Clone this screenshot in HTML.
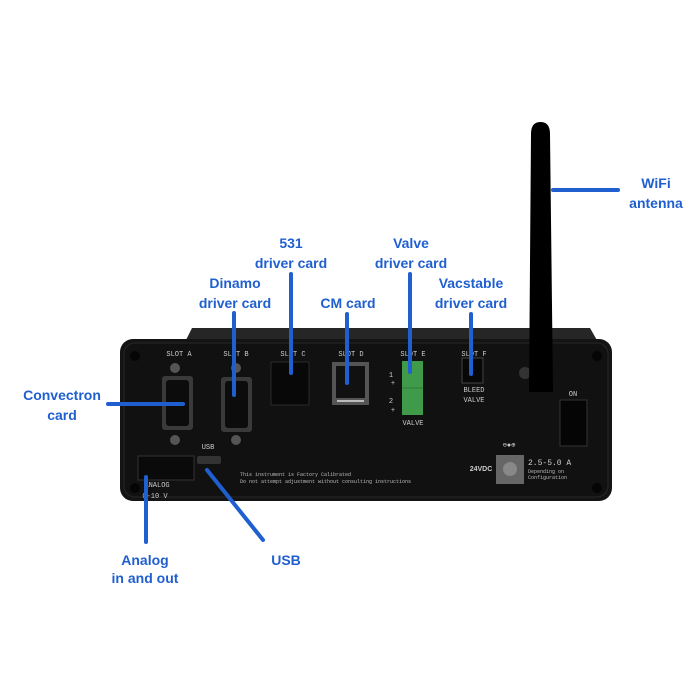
<!DOCTYPE html>
<html><head><meta charset="utf-8"><style>
html,body{margin:0;padding:0;background:#fff;}
svg{display:block;}
.l{font-family:"Liberation Sans",sans-serif;font-weight:bold;font-size:14px;fill:#1f5fcf;text-anchor:middle;}
.s{font-family:"Liberation Mono",monospace;font-size:7px;fill:#ccc;text-anchor:middle;}
.t{font-family:"Liberation Mono",monospace;font-size:5px;fill:#bbb;}
</style></head><body>
<svg width="700" height="700" viewBox="0 0 700 700">
<path d="M185 342 L192 328 L590 328 L598 342 Z" fill="#262626"/>
<rect x="120" y="339" width="492" height="162" rx="13" fill="#141414"/>
<rect x="124" y="343" width="484" height="154" rx="11" fill="#111" stroke="#262626"/>
<circle cx="135" cy="356" r="5" fill="#050505"/><circle cx="597" cy="356" r="5" fill="#050505"/>
<circle cx="135" cy="488" r="5" fill="#050505"/><circle cx="597" cy="488" r="5" fill="#050505"/>
<text class="s" x="179" y="356">SLOT A</text><text class="s" x="236" y="356">SLOT B</text>
<text class="s" x="293" y="356">SLOT C</text><text class="s" x="351" y="356">SLOT D</text>
<text class="s" x="413" y="356">SLOT E</text><text class="s" x="474" y="356">SLOT F</text>
<circle cx="175" cy="368" r="5" fill="#555"/><circle cx="175" cy="440" r="5" fill="#555"/>
<circle cx="236" cy="368" r="5" fill="#555"/><circle cx="236" cy="440" r="5" fill="#555"/>
<rect x="162" y="376" width="31" height="54" rx="3" fill="#3a3a3a"/>
<rect x="166" y="380" width="23" height="46" rx="3" fill="#0c0c0c"/>
<rect x="221" y="377" width="31" height="55" rx="3" fill="#3a3a3a"/>
<rect x="225" y="381" width="23" height="47" rx="3" fill="#0c0c0c"/>
<rect x="271" y="362" width="38" height="43" fill="#080808" stroke="#2a2a2a"/>
<rect x="332" y="362" width="37" height="43" fill="#555"/>
<rect x="336" y="366" width="29" height="32" fill="#111"/>
<rect x="337" y="400" width="27" height="2" fill="#bbb"/>
<rect x="402" y="361" width="21" height="54" fill="#3f9a4a"/>
<line x1="402" y1="388" x2="423" y2="388" stroke="#2e7a38"/>
<text class="s" x="391" y="377">1</text><text class="s" x="391" y="403">2</text>
<text class="s" x="393" y="385">+</text><text class="s" x="393" y="412">+</text>
<text class="s" x="413" y="425">VALVE</text>
<rect x="462" y="358" width="21" height="25" fill="#080808" stroke="#444"/>
<text class="s" x="474" y="392">BLEED</text><text class="s" x="474" y="402">VALVE</text>
<circle cx="525" cy="373" r="6" fill="#333"/>
<text class="s" x="573" y="396">ON</text>
<rect x="560" y="400" width="27" height="46" fill="#050505" stroke="#333"/>
<text class="s" x="509" y="447">⊖●⊕</text>
<rect x="496" y="455" width="28" height="29" fill="#666"/>
<circle cx="510" cy="469" r="7" fill="#888"/>
<text class="s" x="481" y="471" style="font-family:'Liberation Sans';font-weight:bold">24VDC</text>
<text class="s" x="528" y="465" style="text-anchor:start;font-size:8px">2.5-5.0 A</text>
<text class="t" x="528" y="473">Depending on</text><text class="t" x="528" y="479">Configuration</text>
<rect x="138" y="456" width="56" height="24" fill="#0a0a0a" stroke="#333"/>
<text class="s" x="157" y="487">ANALOG</text><text class="s" x="155" y="498">0-10 V</text>
<text class="s" x="208" y="449">USB</text>
<rect x="197" y="456" width="24" height="8" rx="2" fill="#333"/>
<text class="t" x="240" y="476">This instrument is Factory Calibrated</text>
<text class="t" x="240" y="483">Do not attempt adjustment without consulting instructions</text>
<path d="M529 392 L531 134 Q531 122 540.5 122 Q550 122 550 134 L553 392 Z" fill="#000"/>
<g stroke="#1f5fcf" stroke-width="4" stroke-linecap="round" fill="none">
<line x1="553" y1="190" x2="618" y2="190"/>
<line x1="108" y1="404" x2="183" y2="404"/>
<line x1="234" y1="313" x2="234" y2="395"/>
<line x1="291" y1="274" x2="291" y2="373"/>
<line x1="347" y1="314" x2="347" y2="383"/>
<line x1="410" y1="274" x2="410" y2="372"/>
<line x1="471" y1="314" x2="471" y2="374"/>
<line x1="146" y1="477" x2="146" y2="542"/>
<line x1="207" y1="470" x2="263" y2="540"/>
</g>
<text class="l" x="656" y="188">WiFi</text><text class="l" x="656" y="208">antenna</text>
<text class="l" x="62" y="400">Convectron</text><text class="l" x="62" y="420">card</text>
<text class="l" x="235" y="288">Dinamo</text><text class="l" x="235" y="308">driver card</text>
<text class="l" x="291" y="248">531</text><text class="l" x="291" y="268">driver card</text>
<text class="l" x="348" y="308">CM card</text>
<text class="l" x="411" y="248">Valve</text><text class="l" x="411" y="268">driver card</text>
<text class="l" x="471" y="288">Vacstable</text><text class="l" x="471" y="308">driver card</text>
<text class="l" x="145" y="565">Analog</text><text class="l" x="145" y="583">in and out</text>
<text class="l" x="286" y="565">USB</text>
</svg>
</body></html>
